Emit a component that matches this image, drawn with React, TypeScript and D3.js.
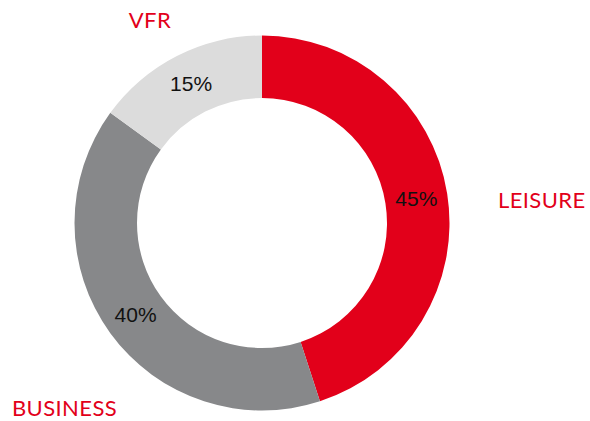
import React from "react";
import * as d3 from "d3";

const categories = ["LEISURE", "BUSINESS", "VFR"];
const values = [45, 40, 15];
const colors = ["#e2001a", "#87888a", "#dcdcdc"];

// label positions (layout): [x, y, anchor]
const labelPos: [number, number, string][] = [
  [498, 208, "start"],
  [12, 416, "start"],
  [150, 28, "middle"],
];

const W = 590;
const H = 421;
const cx = 262;
const cy = 223;
const rOuter = 187.5;
const rInner = 125;

export default function App() {
  const data = categories.map((c, i) => ({ cat: c, value: values[i], color: colors[i] }));
  const pie = d3.pie<any>().value((d) => d.value).sort(null);
  const arcs = pie(data);
  const arc = d3.arc<any>().innerRadius(rInner).outerRadius(rOuter);
  return (
    <svg width={W} height={H} style={{ position: "absolute", left: 0, top: 0, background: "#fff" }}>
      <g transform={`translate(${cx},${cy})`}>
        {arcs.map((a, i) => (
          <path key={i} d={arc(a) as string} fill={a.data.color} />
        ))}
        {arcs.map((a, i) => {
          const [x, y] = arc.centroid(a);
          return (
            <text
              key={"p" + i}
              x={x}
              y={y}
              dy="0.36em"
              textAnchor="middle"
              fontFamily="Liberation Sans, Arial, sans-serif"
              fontSize={21}
              fill="#111"
            >
              {a.data.value}%
            </text>
          );
        })}
      </g>
      {categories.map((c, i) => (
        <text
          key={"l" + i}
          x={labelPos[i][0]}
          y={labelPos[i][1]}
          textAnchor={labelPos[i][2] as any}
          fontFamily="Lato, Open Sans, sans-serif"
          fontSize={22}
          letterSpacing={0.4}
          fill="#e2001a"
        >
          {c}
        </text>
      ))}
    </svg>
  );
}
